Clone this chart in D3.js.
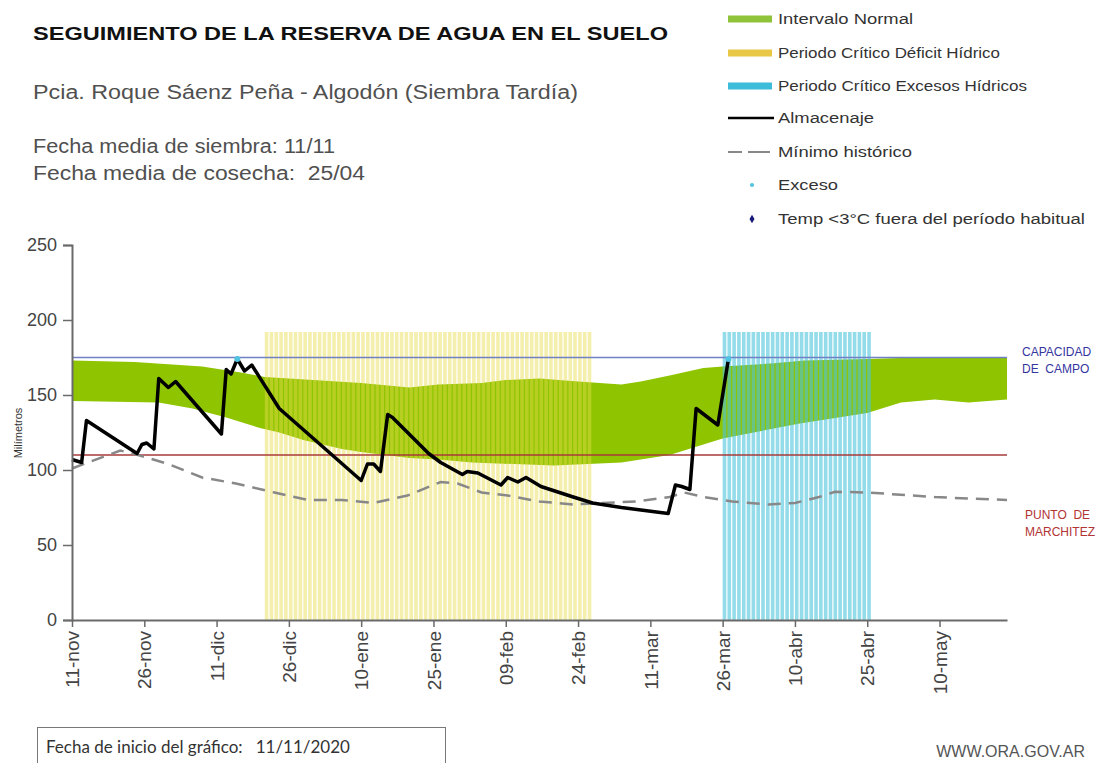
<!DOCTYPE html>
<meta charset="utf-8">
<script src="https://d3js.org/d3.v7.min.js"></script>
<style>
  body { margin: 0; background: #fff; }
  svg { display: block; font-family: "Liberation Sans", Arial, sans-serif; }
</style>
<div id="chart"></div>
<script>
// days counted from 11-nov-2020 (inicio del gráfico)
const tickDays = [0, 15, 30, 45, 60, 75, 90, 105, 120, 135, 150, 165, 180]
const tickLabels = ["11-nov", "26-nov", "11-dic", "26-dic", "10-ene", "25-ene", "09-feb",
                    "24-feb", "11-mar", "26-mar", "10-abr", "25-abr", "10-may"]
const yTicks = [0, 50, 100, 150, 200, 250]

// intervalo normal (upper / lower edge), [day, mm]
const normalUpper = [[0,173],[13,172],[27,169],[35,165],[40,162],[50,160],[60,158],[70,155],
  [76,157],[85,158],[90,160],[97,161],[105,159],[114,157],[118,159],[124,163],[131,168],
  [135,169],[145,171],[152,173],[165,174],[175,175],[194,175]]
const normalLower = [[0,146],[18,145],[25,141],[32,135],[39,128],[43,125],[48,120],[56,114],
  [60,112],[70,108],[76,107],[83,105],[100,103],[114,105],[124,110],[135,121],[151,131],
  [165,138],[172,145],[179,147],[186,145],[194,147]]

// almacenaje, [day, mm]
const almacenaje = [[0,107],[2,105],[3,133],[13.5,111],[14.5,117],[15.5,118],[17,114],[18,161],
  [20,155],[21.5,159],[31,124],[32,167],[33,164],[34.3,174],[35.8,166],[37.3,170],[43,141],
  [60,93],[61.3,104],[62.6,104],[64,99],[65.5,137],[66.5,135],[74,111],[76.5,105],[81,97],
  [82,99],[84.2,98],[89,90],[90.4,95],[92.5,92],[94.2,95],[97.3,89],[104,82],[108,78],
  [114,75],[123.7,71],[125.2,90],[126.5,89],[128.2,87],[129.5,141],[134,130],[136.2,174]]

// mínimo histórico, [day, mm]
const minimoHistorico = [[0,101],[10,113],[13.7,110],[20,104],[27,95],[34,91],[42,85],[49,80],
  [56,80],[62.6,78],[69.6,83],[76.5,92],[80,91],[85,85],[90.4,83],[97,79],[104,77],[110,78],
  [117,79],[124,82],[127,85],[131,82],[137,79],[144.5,77],[150,78],[155,82],[158.3,85.5],
  [165,85],[179,82],[186,81],[194,80]]

const excesos = [[34.3,174],[136.2,174]]
const deficitDays = d3.range(40, 108)
const excesoDays = d3.range(135, 166)
const periodTop = 192
const capacidadCampo = 175
const puntoMarchitez = 110

const width = 1120, height = 763

const svg = d3.select("#chart").append("svg")
  .attr("width", width).attr("height", height)
svg.append("rect").attr("width", width).attr("height", height).attr("fill", "#fff")

const x = d3.scaleLinear().domain([0, 194]).range([72, 1007])
const y = d3.scaleLinear().domain([0, 250]).range([620, 245])

// green band
const band = normalUpper.concat(normalLower.slice().reverse())
svg.append("path")
  .attr("d", d3.line().x(d => x(d[0])).y(d => y(d[1]))(band) + "Z")
  .attr("fill", "#8fc400")

// critical periods, one bar per day
svg.append("g").selectAll("rect")
  .data(deficitDays)
  .join("rect")
    .attr("x", d => x(d))
    .attr("width", d => x(d + 1) - x(d) - 1.2)
    .attr("y", y(periodTop))
    .attr("height", y(0) - y(periodTop))
    .attr("fill", "#e9dc4c")
    .attr("fill-opacity", 0.45)

svg.append("g").selectAll("rect")
  .data(excesoDays)
  .join("rect")
    .attr("x", d => x(d))
    .attr("width", d => x(d + 1) - x(d) - 1.2)
    .attr("y", y(periodTop))
    .attr("height", y(0) - y(periodTop))
    .attr("fill", "#4cc4dc")
    .attr("fill-opacity", 0.6)

// reference lines
svg.append("line")
  .attr("x1", x(0)).attr("x2", x(194))
  .attr("y1", y(capacidadCampo)).attr("y2", y(capacidadCampo))
  .attr("stroke", "#6f80c4").attr("stroke-width", 1.6)
svg.append("line")
  .attr("x1", x(0)).attr("x2", x(194))
  .attr("y1", y(puntoMarchitez)).attr("y2", y(puntoMarchitez))
  .attr("stroke", "#a83a3a").attr("stroke-width", 1.3)

const line = d3.line().x(d => x(d[0])).y(d => y(d[1]))

svg.append("path")
  .attr("d", line(minimoHistorico))
  .attr("fill", "none")
  .attr("stroke", "#888")
  .attr("stroke-width", 2.5)
  .attr("stroke-dasharray", "13,8")

svg.append("path")
  .attr("d", line(almacenaje))
  .attr("fill", "none")
  .attr("stroke", "#000")
  .attr("stroke-width", 3.5)
  .attr("stroke-linejoin", "round")

svg.append("g").selectAll("circle")
  .data(excesos)
  .join("circle")
    .attr("cx", d => x(d[0]))
    .attr("cy", d => y(d[1]))
    .attr("r", 3)
    .attr("fill", "#4fc3e0")

// axes
const yAxis = svg.append("g")
  .attr("transform", `translate(${x(0)},0)`)
  .call(d3.axisLeft(y).tickValues(yTicks).tickSize(9).tickPadding(6))
yAxis.select(".domain").attr("stroke", "#6a6a6a").attr("stroke-width", 2)
yAxis.selectAll(".tick line").attr("stroke", "#6a6a6a").attr("stroke-width", 1.5)
yAxis.selectAll("text").attr("fill", "#444").style("font-size", "18px")

const xAxis = svg.append("g")
  .attr("transform", `translate(0,${y(0)})`)
  .call(d3.axisBottom(x).tickValues(tickDays).tickFormat((d, i) => tickLabels[i]).tickSize(7).tickSizeOuter(0))
xAxis.select(".domain").attr("stroke", "#6a6a6a").attr("stroke-width", 2)
xAxis.selectAll(".tick line").attr("stroke", "#6a6a6a").attr("stroke-width", 1.5)
xAxis.selectAll("text")
  .attr("transform", "rotate(-90)")
  .attr("x", -11).attr("y", 0).attr("dy", "0.35em")
  .attr("text-anchor", "end")
  .attr("fill", "#444")
  .style("font-size", "19px")

svg.append("text")
  .attr("transform", `translate(22,433) rotate(-90)`)
  .attr("text-anchor", "middle")
  .attr("font-size", 11).attr("fill", "#333")
  .text("Milímetros")

// side labels
const side = [["CAPACIDAD", 1022, 356, "#3535a0"], ["DE  CAMPO", 1022, 373, "#3535a0"],
              ["PUNTO  DE", 1025, 519, "#b23434"], ["MARCHITEZ", 1025, 536, "#b23434"]]
svg.append("g").selectAll("text")
  .data(side)
  .join("text")
    .attr("x", d => d[1]).attr("y", d => d[2])
    .attr("font-size", 12).attr("fill", d => d[3])
    .attr("xml:space", "preserve")
    .text(d => d[0])

// titles
svg.append("text").attr("x", 33).attr("y", 40)
  .attr("font-size", 18).attr("font-weight", "bold").attr("fill", "#111")
  .attr("textLength", 635).attr("lengthAdjust", "spacingAndGlyphs")
  .text("SEGUIMIENTO DE LA RESERVA DE AGUA EN EL SUELO")
svg.append("text").attr("x", 33).attr("y", 99)
  .attr("font-size", 20).attr("fill", "#505050")
  .attr("textLength", 545).attr("lengthAdjust", "spacingAndGlyphs")
  .text("Pcia. Roque Sáenz Peña - Algodón (Siembra Tardía)")
svg.append("text").attr("x", 33).attr("y", 153)
  .attr("font-size", 20).attr("fill", "#505050")
  .attr("textLength", 302).attr("lengthAdjust", "spacingAndGlyphs")
  .text("Fecha media de siembra: 11/11")
svg.append("text").attr("x", 33).attr("y", 180)
  .attr("font-size", 20).attr("fill", "#505050")
  .attr("textLength", 332).attr("lengthAdjust", "spacingAndGlyphs")
  .attr("xml:space", "preserve")
  .text("Fecha media de cosecha:  25/04")

// legend
const lg = svg.append("g").attr("font-size", 14).attr("fill", "#333")
const legendRows = [
  ["Intervalo Normal", 19, "bar", "#8fc43a", 135],
  ["Periodo Crítico Déficit Hídrico", 53, "bar", "#e8c846", 222],
  ["Periodo Crítico Excesos Hídricos", 86, "bar", "#3cbcd8", 249],
  ["Almacenaje", 118, "line", "#000", 96],
  ["Mínimo histórico", 152, "dash", "#888", 134],
  ["Exceso", 185, "dot", "#4fc3e0", 60],
  ["Temp <3°C fuera del período habitual", 219, "diamond", "#1a1a7a", 307]
]
legendRows.forEach(r => {
  const [label, cy, kind, col, len] = r
  if (kind === "bar") lg.append("rect").attr("x", 728).attr("y", cy - 3.5).attr("width", 44).attr("height", 7).attr("fill", col)
  if (kind === "line") lg.append("line").attr("x1", 728).attr("x2", 774).attr("y1", cy).attr("y2", cy).attr("stroke", col).attr("stroke-width", 2.5)
  if (kind === "dash") lg.append("line").attr("x1", 728).attr("x2", 774).attr("y1", cy).attr("y2", cy).attr("stroke", col).attr("stroke-width", 2).attr("stroke-dasharray", "14,6,8,0")
  if (kind === "dot") lg.append("circle").attr("cx", 752).attr("cy", cy).attr("r", 2).attr("fill", col)
  if (kind === "diamond") lg.append("path").attr("d", d3.symbol(d3.symbolDiamond, 22)()).attr("transform", `translate(752,${cy})`).attr("fill", col)
  lg.append("text").attr("x", 778).attr("y", cy + 5)
    .attr("textLength", len).attr("lengthAdjust", "spacingAndGlyphs")
    .text(label)
})

// footer
svg.append("rect").attr("x", 37.5).attr("y", 727.5).attr("width", 408).attr("height", 40)
  .attr("fill", "none").attr("stroke", "#777")
svg.append("text").attr("x", 46).attr("y", 753)
  .attr("font-family", "Lato, 'Open Sans', sans-serif")
  .attr("font-size", 17).attr("fill", "#333")
  .attr("xml:space", "preserve")
  .text("Fecha de inicio del gráfico:   11/11/2020")
svg.append("text").attr("x", 1085).attr("y", 757)
  .attr("text-anchor", "end")
  .attr("font-size", 16).attr("fill", "#555")
  .text("WWW.ORA.GOV.AR")
</script>
